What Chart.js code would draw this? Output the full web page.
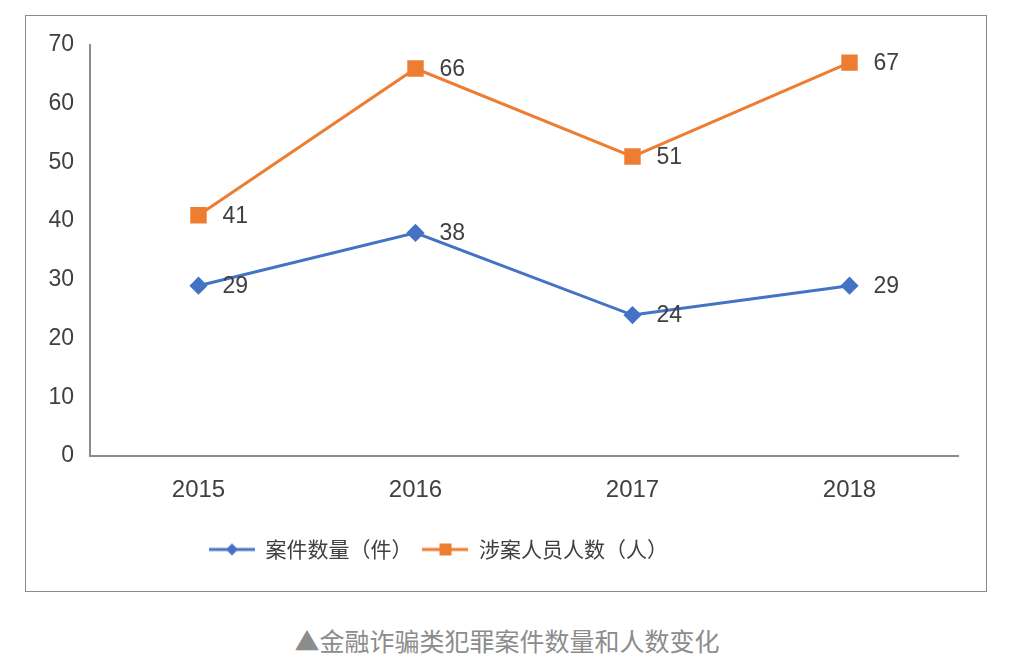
<!DOCTYPE html>
<html>
<head>
<meta charset="utf-8">
<script src="https://cdn.jsdelivr.net/npm/chart.js@4/dist/chart.umd.min.js"></script>
<style>
  body { margin: 0; background: #fff; width: 1014px; height: 666px; position: relative; }
  #box { position: absolute; left: 25px; top: 15px; width: 960px; height: 575px; border: 1px solid #8a8a8a; }
  #caption { position: absolute; left: 0; width: 1014px; top: 624px; text-align: center;
    font-family: "Noto Sans CJK SC", sans-serif; font-size: 25px; color: #8c8c8c; line-height: 32px; }
</style>
</head>
<body>
<div id="box"><canvas id="chart" width="960" height="575"></canvas></div>
<div id="caption">▲金融诈骗类犯罪案件数量和人数变化</div>
<script>
const years   = ['2015', '2016', '2017', '2018'];
const cases   = [29, 38, 24, 29];
const persons = [41, 66, 51, 67];
const seriesNames = ['案件数量（件）', '涉案人员人数（人）'];

const BLUE = '#4472C4';
const ORANGE = '#ED7D31';
const TEXT = '#404040';
const NUM_FONT = '"Liberation Sans", Arial, sans-serif';

// little line+marker pictures for the legend
function legendIcon(color, style) {
  const c = document.createElement('canvas');
  c.width = 46; c.height = 16;
  const ctx = c.getContext('2d');
  ctx.strokeStyle = color; ctx.lineWidth = 3;
  ctx.beginPath(); ctx.moveTo(0, 8); ctx.lineTo(46, 8); ctx.stroke();
  ctx.fillStyle = color;
  if (style === 'rect') {
    ctx.fillRect(23 - 6, 8 - 6, 12, 12);
  } else {
    ctx.beginPath();
    ctx.moveTo(23, 2); ctx.lineTo(29, 8); ctx.lineTo(23, 14); ctx.lineTo(17, 8);
    ctx.closePath(); ctx.fill();
  }
  return c;
}

const valueLabels = {
  id: 'valueLabels',
  afterDatasetsDraw(chart) {
    const ctx = chart.ctx;
    ctx.save();
    ctx.font = '23px ' + NUM_FONT;
    ctx.fillStyle = TEXT;
    ctx.textAlign = 'left';
    ctx.textBaseline = 'middle';
    chart.data.datasets.forEach((ds, i) => {
      chart.getDatasetMeta(i).data.forEach((pt, j) => {
        ctx.fillText(String(ds.data[j]), pt.x + 24, pt.y + 1);
      });
    });
    ctx.restore();
  }
};

const legendShift = {
  id: 'legendShift',
  afterLayout(chart) {
    chart.legend.left = 173;
    chart.legend.right = 700;
  }
};

new Chart(document.getElementById('chart'), {
  type: 'line',
  data: {
    labels: years,
    datasets: [
      {
        label: seriesNames[0],
        data: cases,
        borderColor: BLUE,
        backgroundColor: BLUE,
        borderWidth: 3,
        pointStyle: 'rectRot',
        pointRadius: 7,
        pointHoverRadius: 7,
        tension: 0
      },
      {
        label: seriesNames[1],
        data: persons,
        borderColor: ORANGE,
        backgroundColor: ORANGE,
        borderWidth: 3,
        pointStyle: 'rect',
        pointRadius: 9.5,
        pointHoverRadius: 9.5,
        tension: 0
      }
    ]
  },
  options: {
    responsive: false,
    animation: false,
    layout: { padding: { top: 29, right: 28, bottom: 21, left: 0 } },
    plugins: {
      tooltip: { enabled: false },
      legend: {
        position: 'bottom',
        align: 'start',
        labels: {
          usePointStyle: true,
          pointStyleWidth: 46,
          padding: 10,
          color: TEXT,
          font: { family: '"Noto Sans CJK SC", sans-serif', size: 21 },
          generateLabels(chart) {
            return chart.data.datasets.map((ds, i) => ({
              text: ds.label,
              pointStyle: legendIcon(ds.borderColor, ds.pointStyle),
              fillStyle: ds.borderColor,
              strokeStyle: ds.borderColor,
              lineWidth: 0,
              fontColor: TEXT,
              datasetIndex: i
            }));
          }
        }
      }
    },
    scales: {
      x: {
        offset: true,
        grid: { display: false },
        border: { display: true, color: '#8c8c8c', width: 2 },
        ticks: { color: TEXT, padding: 12, font: { family: NUM_FONT, size: 24 } },
        afterFit(s) { s.height = 73; }
      },
      y: {
        min: 0,
        max: 70,
        grid: { display: false },
        border: { display: true, color: '#8c8c8c', width: 2 },
        ticks: { stepSize: 10, color: TEXT, padding: 8, font: { family: NUM_FONT, size: 23 } },
        afterFit(s) { s.width = 64; }
      }
    }
  },
  plugins: [valueLabels, legendShift]
});
</script>
</body>
</html>
